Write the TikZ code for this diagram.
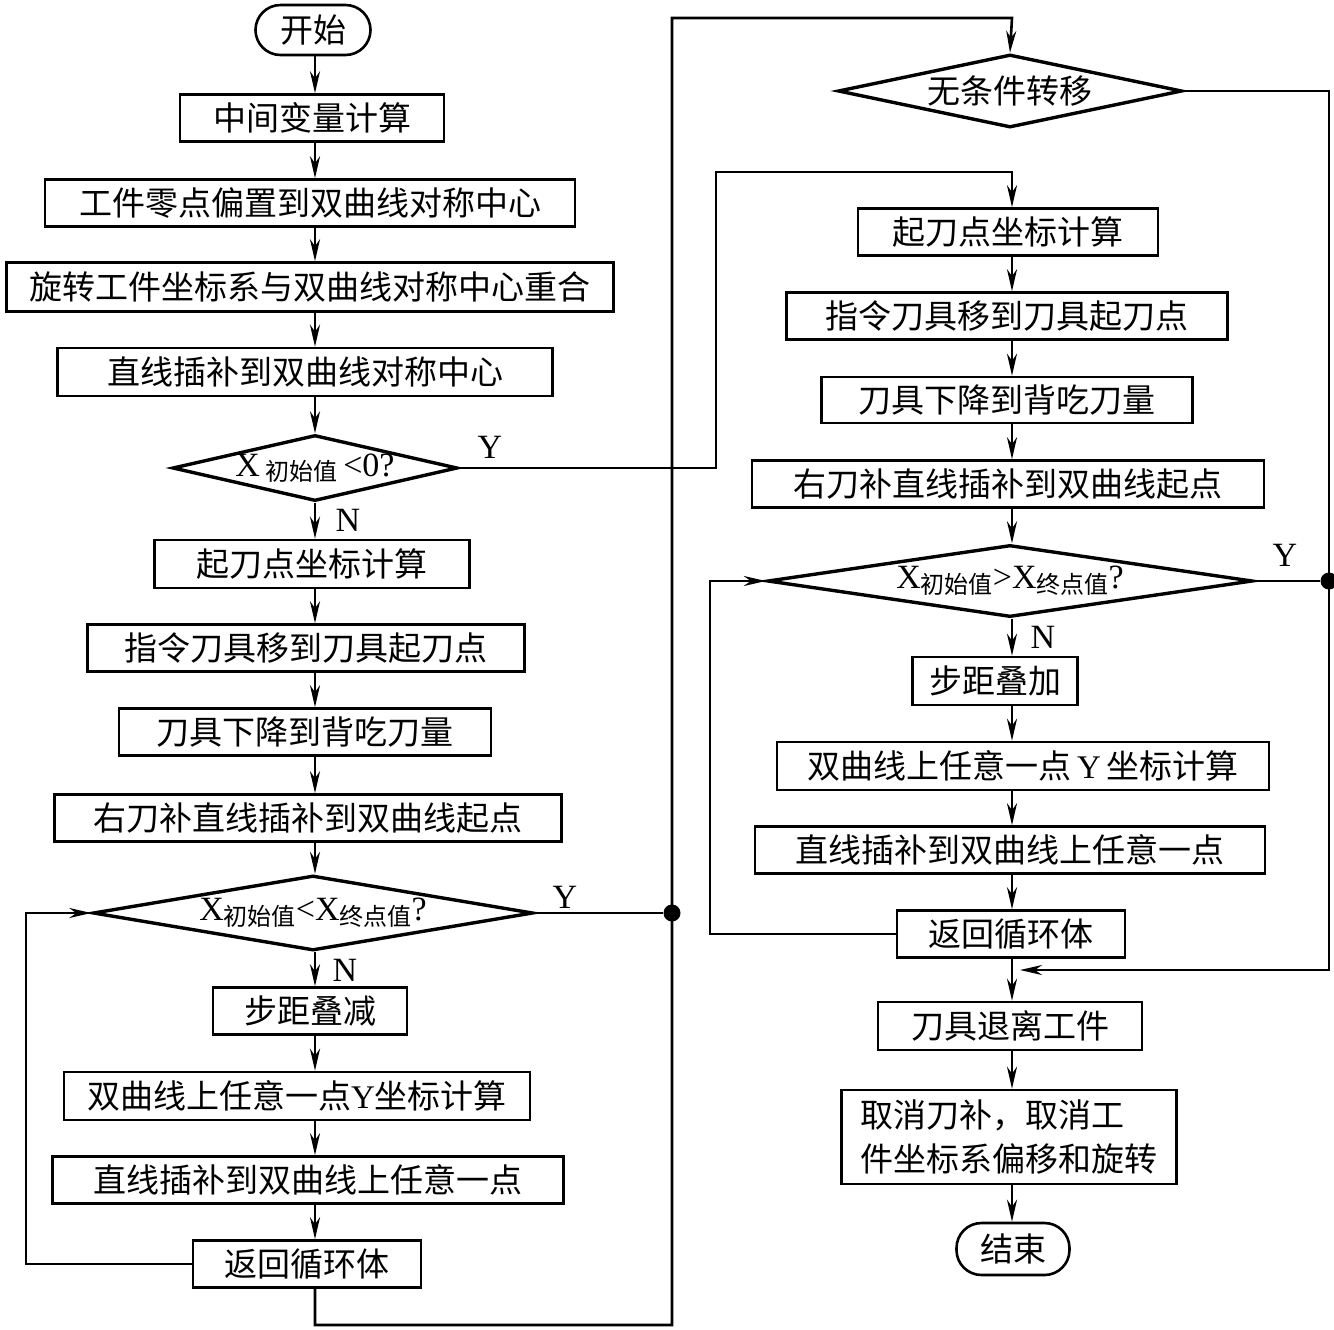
\documentclass[tikz,border=0pt]{standalone}
\usepackage{fontspec}
\setmainfont{Liberation Serif}
\newfontfamily\cjk{Noto Sans CJK SC}
\usetikzlibrary{shapes.geometric,arrows.meta,calc}
\newcommand\smc[1]{\raisebox{-0.3ex}{\cjk\fontsize{12}{12}\selectfont #1}}
\begin{document}
\begin{tikzpicture}[x=0.5pt,y=-0.5pt,
  box/.style={draw,line width=1.3pt,inner sep=0pt,font=\cjk\fontsize{16.5}{20}\selectfont},
  wh/.style 2 args={minimum width=#1*0.5pt,minimum height=#2*0.5pt},
  term/.style={box,rounded corners=12.5pt},
  dec/.style={draw,diamond,line width=1.7pt,inner sep=0pt,font=\fontsize{17}{20}\selectfont},
  arr/.style={line width=1.3pt,-{Stealth[length=11pt,width=5pt,inset=3.5pt]}},
  ln/.style={line width=1.3pt},
  dot/.style={circle,fill,inner sep=0pt,minimum size=8.5pt},
  lab/.style={font=\fontsize{17}{20}\selectfont}]
\useasboundingbox (0,0) rectangle (1334,1329);
\coordinate (L) at (315,0);
\coordinate (R) at (1012,0);
% left column
\node[term,wh={115}{50}] (start) at (313,30) {开始};
\node[box,wh={264}{47}] (b1) at (312,118) {中间变量计算};
\node[box,wh={530}{47}] (b2) at (310,203) {工件零点偏置到双曲线对称中心};
\node[box,wh={607}{49}] (b3) at (310,287) {旋转工件坐标系与双曲线对称中心重合};
\node[box,wh={495}{48}] (b4) at (305,372) {直线插补到双曲线对称中心};
\node[dec,wh={285}{66}] (d1) at (315,468) {\makebox[0pt]{\raisebox{-2pt}{X\,\smc{初始值}\,<0?}}};
\node[box,wh={315}{48}] (b5) at (312,564) {起刀点坐标计算};
\node[box,wh={437}{47}] (b6) at (306,648) {指令刀具移到刀具起刀点};
\node[box,wh={372}{47}] (b7) at (305,732) {刀具下降到背吃刀量};
\node[box,wh={507}{47}] (b8) at (308,818) {右刀补直线插补到双曲线起点};
\node[dec,wh={440}{75}] (d2) at (313,913) {\makebox[0pt]{\raisebox{-2pt}{X\smc{初始值}<X\smc{终点值}?}}};
\node[box,wh={194}{47}] (b9) at (310,1011) {步距叠减};
\node[box,wh={466}{48}] (b10) at (297,1096) {双曲线上任意一点{\rmfamily Y}坐标计算};
\node[box,wh={511}{47}] (b11) at (308,1180) {直线插补到双曲线上任意一点};
\node[box,wh={228}{47}] (b12) at (307,1264) {返回循环体};
% right column
\node[dec,wh={344}{73}] (d3) at (1010,91) {\makebox[0pt]{\cjk\fontsize{16.5}{20}\selectfont 无条件转移}};
\node[box,wh={300}{47}] (b13) at (1008,232) {起刀点坐标计算};
\node[box,wh={441}{47}] (b14) at (1007,316) {指令刀具移到刀具起刀点};
\node[box,wh={371}{46}] (b15) at (1007,400) {刀具下降到背吃刀量};
\node[box,wh={512}{47}] (b16) at (1008,484) {右刀补直线插补到双曲线起点};
\node[dec,wh={485}{72}] (d4) at (1010,581) {\makebox[0pt]{\raisebox{-2pt}{X\smc{初始值}>X\smc{终点值}?}}};
\node[box,wh={165}{48}] (b17) at (995,681) {步距叠加};
\node[box,wh={492}{48}] (b18) at (1023,766) {双曲线上任意一点\,{\rmfamily Y}\,坐标计算};
\node[box,wh={510}{47}] (b19) at (1010,850) {直线插补到双曲线上任意一点};
\node[box,wh={228}{47}] (b20) at (1011,934) {返回循环体};
\node[box,wh={264}{48}] (b21) at (1010,1026) {刀具退离工件};
\node[box,wh={335}{94},align=left] (b22) at (1009,1137) {取消刀补，取消工\\[2pt]件坐标系偏移和旋转};
\node[term,wh={113}{52}] (end) at (1013,1249) {结束};
% labels
\node[lab] (y1) at (490,447) {Y};
\node[lab] (n1) at (348,520) {N};
\node[lab] (y2) at (565,897) {Y};
\node[lab] (n2) at (345,970) {N};
\node[lab] (y3) at (1285,555) {Y};
\node[lab] (n3) at (1043,637) {N};
% dots
\node[dot] (dotL) at (672,913) {};
\node[dot] (dotR) at (1329,581) {};
% vertical arrows
\foreach \a/\b in {start/b1,b1/b2,b2/b3,b3/b4,b4/d1,d1/b5,b5/b6,b6/b7,b7/b8,b8/d2,d2/b9,b9/b10,b10/b11,b11/b12}
  \draw[arr] (\a.south -| L) -- (\b.north -| L);
\foreach \a/\b in {b13/b14,b14/b15,b15/b16,b16/d4,d4/b17,b17/b18,b18/b19,b19/b20,b20/b21,b21/b22,b22/end}
  \draw[arr] (\a.south -| R) -- (\b.north -| R);
% routed connectors
\coordinate (c1) at (716,172);
\draw[arr] (d1.east) -| (c1) -- (c1 -| R) -- (b13.north -| R);
\draw[ln] (d2.east) -- (dotL);
\coordinate (cb) at (672,1325);
\coordinate (ct) at (672,18);
\draw[arr] (b12.south -| L) |- (cb) -- (ct) -- (ct -| R) -- (d3.north);
\coordinate (cl) at (26,913);
\draw[arr] (b12.west) -| (cl) -- (d2.west);
\coordinate (cr) at (1329,970);
\coordinate (cj) at (1020,970);
\draw[arr] (d3.east) -| (cr) -- (cj);
\draw[ln] (d4.east) -- (dotR);
\coordinate (cl2) at (710,581);
\draw[arr] (b20.west) -| (cl2) -- (d4.west);
\end{tikzpicture}
\end{document}
